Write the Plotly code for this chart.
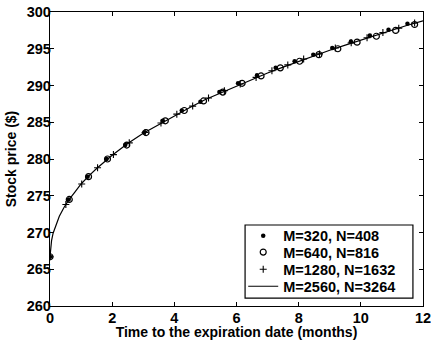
import plotly.graph_objects as go

# M=320, N=408 (dots)
t_320 = [0, 0.6, 1.21, 1.82, 2.42, 3.03, 3.63, 4.24, 4.84, 5.45, 6.05, 6.66, 7.26, 7.87,
         8.47, 9.08, 9.68, 10.29, 10.89, 11.5]
s_320 = [266.7, 274.5, 277.6, 280.0, 281.9, 283.6, 285.2, 286.6, 287.8, 289.1, 290.3, 291.4,
         292.4, 293.3, 294.2, 295.1, 296.0, 296.8, 297.6, 298.4]

# M=640, N=816 (open circles)
t_640 = [0, 0.62, 1.24, 1.85, 2.47, 3.09, 3.71, 4.32, 4.94, 5.56, 6.18, 6.79, 7.41, 8.03,
         8.65, 9.26, 9.88, 10.5, 11.12, 11.73]
s_640 = [266.7, 274.5, 277.6, 280.0, 281.9, 283.6, 285.2, 286.6, 287.9, 289.1, 290.3, 291.3,
         292.4, 293.3, 294.2, 295.0, 295.9, 296.7, 297.5, 298.3]

# M=1280, N=1632 (plus)
t_1280 = [0, 0.51, 1.02, 1.53, 2.04, 2.55, 3.06, 3.57, 4.08, 4.59, 5.10, 5.61, 6.12, 6.63,
          7.14, 7.65, 8.16, 8.67, 9.18, 9.69, 10.20, 10.71, 11.22, 11.73]
s_1280 = [266.7, 273.8, 276.6, 278.8, 280.6, 282.2, 283.6, 284.9, 286.1, 287.2, 288.3, 289.3,
          290.2, 291.1, 292.0, 292.8, 293.6, 294.3, 295.1, 295.8, 296.5, 297.2, 297.8, 298.5]

# M=2560, N=3264 (solid line)
t_2560 = [0, 0.02, 0.05, 0.1, 0.2, 0.3, 0.45, 0.6, 0.8, 1.0, 1.25, 1.5, 2.0, 2.5, 3.0, 3.5,
          4.0, 4.5, 5.0, 5.5, 6.0, 6.5, 7.0, 7.5, 8.0, 8.5, 9.0, 9.5, 10.0, 10.5, 11.0, 11.5, 12.0]
s_2560 = [266.7, 268.1, 268.9, 269.9, 271.2, 272.2, 273.4, 274.4, 275.5, 276.6, 277.7, 278.7,
          280.5, 282.1, 283.5, 284.7, 285.9, 287.0, 288.1, 289.0, 290.0, 290.9, 291.7, 292.5,
          293.3, 294.1, 294.8, 295.5, 296.2, 296.9, 297.5, 298.2, 298.8]

x_ticks = [0, 2, 4, 6, 8, 10, 12]
y_ticks = [260, 265, 270, 275, 280, 285, 290, 295, 300]

FONT = "Liberation Sans"
LEG_FONT = dict(family=FONT, size=14.5, color="black", weight="bold")

fig = go.Figure()
fig.add_trace(go.Scatter(x=t_320, y=s_320, mode="markers", name="M=320, N=408",
                         legend="legend",
                         marker=dict(symbol="circle", size=4.5, color="black")))
fig.add_trace(go.Scatter(x=t_640, y=s_640, mode="markers", name="M=640, N=816",
                         legend="legend2",
                         marker=dict(symbol="circle-open", size=6, color="black",
                                     line=dict(width=1.2, color="black"))))
fig.add_trace(go.Scatter(x=t_1280, y=s_1280, mode="markers", name="M=1280, N=1632",
                         legend="legend3",
                         marker=dict(symbol="cross-thin", size=5, color="black",
                                     line=dict(width=1.1, color="black"))))
fig.add_trace(go.Scatter(x=t_2560, y=s_2560, mode="lines", name="M=2560, N=3264",
                         legend="legend4",
                         line=dict(color="black", width=1.2)))

axis_common = dict(showline=True, linecolor="black", linewidth=1.3, mirror="ticks",
                   ticks="inside", ticklen=4, tickwidth=1, tickcolor="black",
                   showgrid=False, zeroline=False, ticklabeloverflow="allow",
                   tickfont=dict(family=FONT, size=14.5, color="black", weight="bold"))

fig.update_xaxes(range=[0, 12], tickvals=x_ticks, ticklabelstandoff=-2,
                 title=dict(text="<b>Time to the expiration date (months)</b>",
                            font=dict(family=FONT, size=14, color="black"), standoff=1),
                 **axis_common)
fig.update_yaxes(range=[260, 300], tickvals=y_ticks, ticklabelstandoff=-5,
                 title=dict(text="<b>Stock price ($)</b>",
                            font=dict(family=FONT, size=14, color="black"), standoff=6),
                 **axis_common)

# legend frame
fig.add_shape(type="rect", xref="paper", yref="paper", x0=0.523, x1=0.973, y0=0.027, y1=0.2755,
              line=dict(color="black", width=1.2), fillcolor="white", layer="above")

leg_common = dict(x=0.518, xanchor="left", yanchor="middle", bgcolor="rgba(0,0,0,0)",
                  borderwidth=0, font=LEG_FONT, itemwidth=30)
fig.update_layout(
    width=431, height=340,
    margin=dict(l=50, r=8, t=12, b=34, autoexpand=False),
    paper_bgcolor="white", plot_bgcolor="white",
    showlegend=True,
    legend=dict(y=0.239, **leg_common),
    legend2=dict(y=0.183, **leg_common),
    legend3=dict(y=0.125, **leg_common),
    legend4=dict(y=0.067, **leg_common),
)

fig.write_html("out.html", config={"displayModeBar": False},
               post_script="document.body.style.margin='0px';")
